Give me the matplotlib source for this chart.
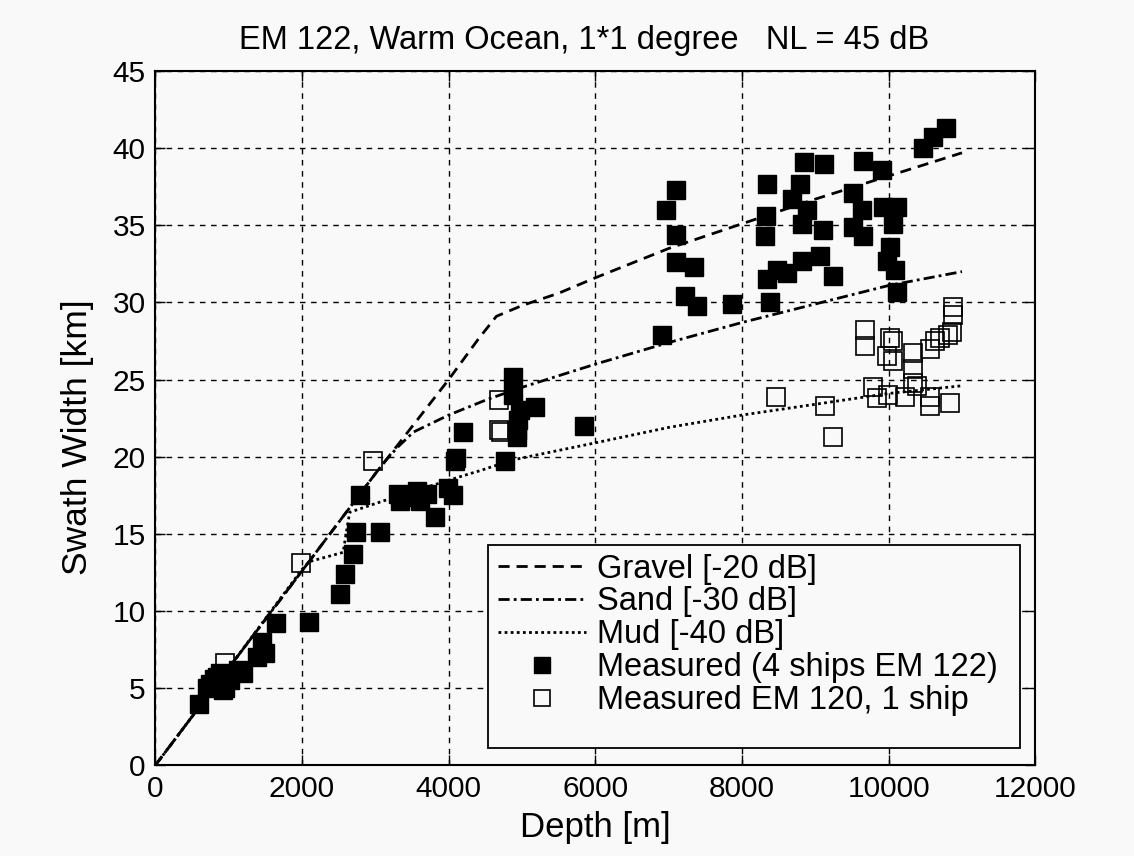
import matplotlib
matplotlib.use("Agg")
import matplotlib.pyplot as plt
from matplotlib.patches import Rectangle
import numpy as np

plt.rcParams['font.family'] = ['Liberation Sans', 'DejaVu Sans']

# model curves, depth [m] -> swath width [km]
gravel_depth = [0, 1000, 2000, 3000, 4000, 4400, 4650, 5000, 5500, 6000, 7000, 8000, 9000, 10000, 11000]
gravel_width = [0, 6.3, 12.6, 18.9, 25.0, 27.6, 29.1, 29.8, 30.6, 31.6, 33.5, 35.1, 36.7, 38.2, 39.7]

sand_depth = [0, 1000, 2000, 3000, 3150, 3300, 3520, 4000, 4520, 5000, 6000, 7000, 8000, 9000, 10000, 11000]
sand_width = [0, 6.3, 12.6, 18.9, 19.8, 20.6, 21.6, 22.7, 23.7, 24.5, 26.0, 27.4, 28.7, 29.9, 31.1, 32.0]

mud_depth = [0, 1000, 2000, 2100, 2560, 2650, 3150, 4150, 4430, 4880, 6000, 7000, 8000, 9000, 10000, 11000]
mud_width = [0, 6.3, 12.7, 13.2, 13.8, 16.4, 17.2, 18.7, 19.1, 19.8, 20.9, 21.9, 22.7, 23.4, 24.1, 24.6]

# measured, 4 ships EM 122
em122_depth = [600, 700, 745, 800, 835, 880, 925, 950, 1016, 1130, 1200, 1380, 1450, 1500,
               1650, 2100, 2517, 2585, 2698, 2735, 3062, 2790, 3312, 3335, 3420, 3563, 3608,
               3700, 3812, 3994, 4062, 4085, 4100, 4198, 4767, 4880, 4880, 4970, 4925, 4925,
               4950, 5176, 5850,
               6905, 6964, 7100, 7100, 7100, 7222, 7345, 7380, 7860,
               8313, 8327, 8345, 8337, 8382, 8473, 8610, 8677, 8791, 8814, 8814, 8845, 8882,
               9064, 9109, 9118, 9245,
               9518, 9518, 9632, 9655, 9655, 9905, 9928, 9973, 10019, 10064, 10087, 10110,
               10110, 10473, 10610, 10783]
em122_width = [4.0, 5.0, 5.3, 5.6, 5.7, 6.0, 4.9, 5.0, 5.5, 6.2, 6.0, 7.0, 8.0, 7.3,
               9.2, 9.3, 11.1, 12.4, 13.7, 15.1, 15.1, 17.5, 17.6, 17.1, 17.4, 17.8, 17.1,
               17.6, 16.1, 18.0, 17.5, 19.7, 19.9, 21.6, 19.7, 25.2, 24.0, 23.0, 21.7, 21.3,
               22.4, 23.2, 22.0,
               27.9, 36.0, 37.3, 34.4, 32.6, 30.4, 32.3, 29.8, 29.9,
               34.3, 35.6, 37.7, 31.5, 30.0, 32.1, 31.9, 36.7, 37.7, 35.1, 32.7, 39.1, 36.0,
               33.0, 34.7, 39.0, 31.7,
               37.1, 34.9, 36.0, 39.2, 34.3, 38.6, 36.2, 32.7, 33.6, 35.1, 32.1, 36.2,
               30.7, 40.0, 40.7, 41.3]

# measured, EM 120, 1 ship
em120_depth = [950, 1985, 2970, 4680, 4680, 4720, 8464, 9132, 9237, 9678, 9678, 9791, 9837,
               10019, 10064, 9973, 10064, 9996, 10337, 10337, 10337, 10383, 10223, 10565,
               10633, 10701, 10814, 10860, 10882, 10882, 10565, 10565, 10837]
em120_width = [6.6, 13.1, 19.7, 23.7, 21.7, 21.6, 23.9, 23.3, 21.3, 28.2, 27.2, 24.5, 23.8,
               27.7, 27.5, 26.5, 26.2, 24.0, 26.7, 25.7, 24.8, 24.6, 23.9, 27.0,
               27.5, 27.7, 27.9, 28.1, 29.7, 29.2, 23.9, 23.3, 23.5]

bg = '#f9f9f9'
fig = plt.figure(figsize=(11.34, 8.56), dpi=100, facecolor=bg)
ax = fig.add_axes([0.137, 0.106, 0.776, 0.811], facecolor=bg)

ax.plot(gravel_depth, gravel_width, color='k', lw=2, ls=(0, (4, 2.5)), label='Gravel [-20 dB]')
ax.plot(sand_depth, sand_width, color='k', lw=2, ls=(0, (4, 1.5, 1, 1.5)), label='Sand [-30 dB]')
ax.plot(mud_depth, mud_width, color='k', lw=2, ls=(0, (1, 1.2)), label='Mud [-40 dB]')
ax.plot(em122_depth, em122_width, ls='none', marker='s', ms=12.5, mfc='k', mec='k',
        label='Measured (4 ships EM 122)')
ax.plot(em120_depth, em120_width, ls='none', marker='s', ms=12.5, mfc='none', mec='k',
        mew=1.2, label='Measured EM 120, 1 ship')

ax.set_xlim(0, 12000)
ax.set_ylim(0, 45)
ax.set_xticks(np.arange(0, 12001, 2000))
ax.set_yticks(np.arange(0, 46, 5))
ax.grid(True, color='k', ls=(0, (4, 4)), lw=1)
ax.tick_params(direction='in', length=7, width=1, top=True, right=True, labelsize=21.5, pad=7)
for s in ax.spines.values():
    s.set_linewidth(1.5)

ax.set_title('EM 122, Warm Ocean, 1*1 degree   NL = 45 dB', fontsize=23.5, pad=16, x=0.487)
ax.set_xlabel('Depth [m]', fontsize=25, labelpad=6)
ax.set_ylabel('Swath Width [km]', fontsize=25.5)
ax.yaxis.set_label_coords(-0.07, 0.472)

# MATLAB-style legend box: taller at the bottom than the entries need
box = Rectangle((0.378, 0.0245), 0.605, 0.2925, transform=ax.transAxes,
                facecolor=bg, edgecolor='k', lw=1.3, zorder=4.5)
ax.add_patch(box)
leg = ax.legend(loc='upper left', bbox_to_anchor=(0.389, 0.305), borderaxespad=0,
                fontsize=23.5, handlelength=2.7, markerscale=0.9, labelspacing=0.06,
                handletextpad=0.35, borderpad=0, frameon=False)
leg.set_zorder(5)

fig.savefig('out.png', dpi=100, facecolor=bg)
